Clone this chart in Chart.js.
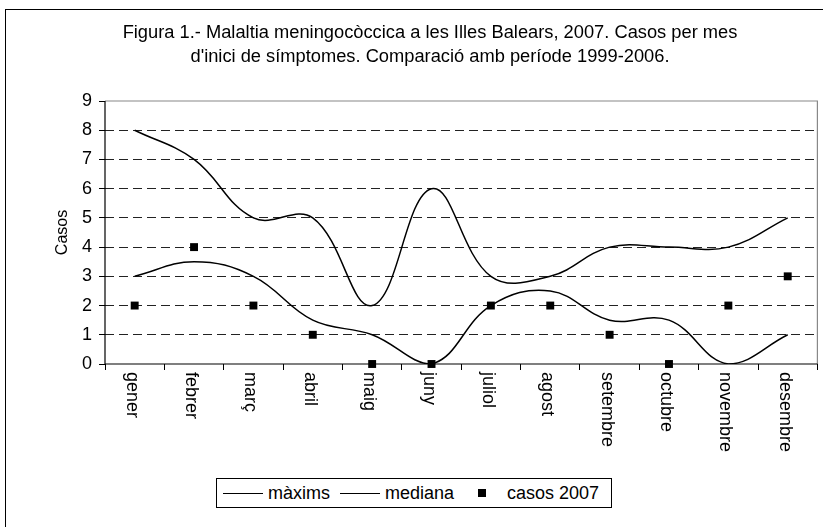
<!DOCTYPE html>
<html>
<head>
<meta charset="utf-8">
<script src="https://cdn.jsdelivr.net/npm/chart.js@4.4.1/dist/chart.umd.min.js"></script>
<style>
  html, body { margin: 0; padding: 0; background: #fff; overflow: hidden; }
  #frame { position: absolute; left: 5px; top: 9px; width: 900px; height: 600px; border: 1px solid #000; }
  #wrap { position: absolute; left: 0; top: 0; width: 823px; height: 527px; }
  #legend {
    position: absolute; left: 216px; top: 478px; width: 388px; height: 28px;
    padding-left: 6px;
    border: 1px solid #000; background: #fff;
    display: flex; align-items: center; justify-content: flex-start;
    font-family: "Liberation Sans", Arial, sans-serif; font-size: 18px; color: #000;
  }
  #legend .item { display: flex; align-items: center; margin-right: 10px; }
  #legend .line { width: 40px; height: 0; border-top: 1.5px solid #000; margin-right: 5px; }
  #legend .sq { width: 8px; height: 8px; background: #000; margin: 0 21px 0 14px; }
</style>
</head>
<body>
<div id="frame"></div>
<div id="wrap"><canvas id="c" width="823" height="527"></canvas></div>
<div id="legend"></div>
<script>
// dades
const mesos = ['gener', 'febrer', 'març', 'abril', 'maig', 'juny', 'juliol', 'agost', 'setembre', 'octubre', 'novembre', 'desembre'];
const maxims = [8, 7, 5, 5, 2, 6, 3, 3, 4, 4, 4, 5];
const mediana = [3, 3.5, 3, 1.5, 1, 0, 2, 2.5, 1.5, 1.5, 0, 1];
const casos2007 = [2, 4, 2, 1, 0, 0, 2, 2, 1, 0, 2, 3];
const titol = ['Figura 1.- Malaltia meningocòccica a les Illes Balears, 2007. Casos per mes',
               "d'inici de símptomes. Comparació amb període 1999-2006."];

const FONT = '"Liberation Sans", Arial, sans-serif';

// marc de l'àrea del gràfic, títol i etiquetes de mesos girades
const extras = {
  id: 'extras',
  beforeDatasetsDraw(chart) {
    const { ctx, chartArea: a } = chart;
    ctx.save();
    ctx.lineWidth = 1.2;
    ctx.strokeStyle = '#888';
    ctx.beginPath();
    ctx.moveTo(a.left, a.top); ctx.lineTo(a.right, a.top); ctx.lineTo(a.right, a.bottom);
    ctx.stroke();
    ctx.strokeStyle = '#000';
    ctx.beginPath();
    ctx.moveTo(a.left, a.top); ctx.lineTo(a.left, a.bottom); ctx.lineTo(a.right, a.bottom);
    ctx.stroke();
    ctx.restore();
  },
  afterDraw(chart) {
    const { ctx, chartArea: a } = chart;
    const x = chart.scales.x;
    ctx.save();
    ctx.fillStyle = '#000';
    ctx.font = '18.3px ' + FONT;
    ctx.textAlign = 'center';
    ctx.textBaseline = 'middle';
    ctx.fillText(titol[0], 430, 33);
    ctx.fillText(titol[1], 430, 57);

    ctx.font = '18px ' + FONT;
    ctx.textAlign = 'left';
    mesos.forEach((m, i) => {
      const px = x.getPixelForTick(i);
      ctx.save();
      ctx.translate(px - 3, a.bottom + 8);
      ctx.rotate(Math.PI / 2);
      ctx.fillText(m, 0, 0);
      ctx.restore();
    });
    ctx.restore();
  }
};

const ctx = document.getElementById('c');
new Chart(ctx, {
  type: 'line',
  data: {
    labels: mesos,
    datasets: [
      { label: 'màxims', data: maxims, borderColor: '#000', borderWidth: 1.5, pointRadius: 0, tension: 0.4, fill: false },
      { label: 'mediana', data: mediana, borderColor: '#000', borderWidth: 1.5, pointRadius: 0, tension: 0.4, fill: false },
      { label: 'casos 2007', data: casos2007, showLine: false, pointStyle: 'rect', pointRadius: 5.6,
        backgroundColor: '#000', borderColor: '#000', borderWidth: 0, clip: false }
    ]
  },
  options: {
    responsive: false,
    animation: false,
    events: [],
    layout: { padding: { left: 49, top: 101, right: 5, bottom: 63 } },
    plugins: { legend: { display: false }, tooltip: { enabled: false } },
    scales: {
      x: {
        offset: true,
        afterFit: s => { s.height = 100; },
        grid: { offset: true, drawOnChartArea: false, drawTicks: true, tickLength: 6, color: '#000', tickColor: '#000' },
        border: { display: false },
        ticks: { display: false }
      },
      y: {
        min: 0, max: 9,
        afterFit: s => { s.width = 56; },
        title: { display: true, text: 'Casos', color: '#000', font: { family: FONT, size: 16 } },
        grid: {
          tickLength: 6,
          color: c => (c.tick && (c.tick.value === 0 || c.tick.value === 9)) ? 'rgba(0,0,0,0)' : '#222',
          tickColor: '#000',
          tickBorderDash: [1, 0],
          lineWidth: 1
        },
        border: { display: false, dash: [9, 5] },
        ticks: { stepSize: 1, color: '#000', padding: 7, font: { family: FONT, size: 18 } }
      }
    }
  },
  plugins: [extras]
});

// llegenda
const lg = document.getElementById('legend');
lg.innerHTML =
  '<div class="item"><span class="line"></span>màxims</div>' +
  '<div class="item"><span class="line"></span>mediana</div>' +
  '<div class="item"><span class="sq"></span>casos 2007</div>';
</script>
</body>
</html>
